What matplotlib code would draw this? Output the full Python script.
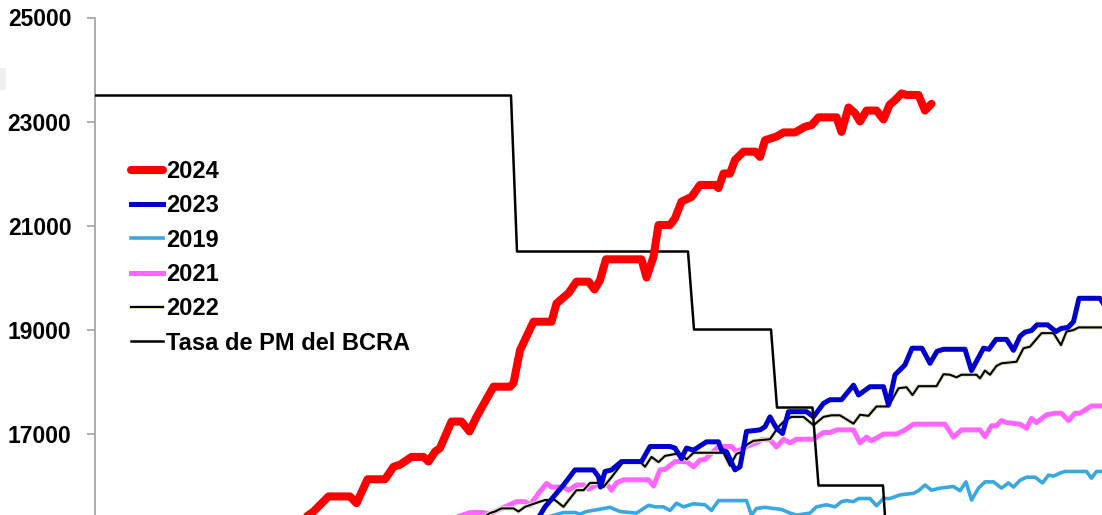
import matplotlib
matplotlib.use('Agg')
import matplotlib.pyplot as plt
import matplotlib.patheffects as pe
from matplotlib.patches import Rectangle

plt.rcParams['font.family'] = ['Liberation Sans', 'DejaVu Sans']
plt.rcParams['font.weight'] = 'bold'

# serie 2024
d2024 = [41.5, 43.7, 46.7, 51, 52.3, 54.5, 58, 59.7, 61, 63.3, 65.7, 66.7, 68, 69,
         71.3, 73.3, 74.9, 76.3, 79.7, 83, 83.7, 85, 87.7, 91.3, 92.3, 94.7, 96.3,
         98.7, 99.9, 101, 102.2, 109.3, 110.3, 111.7, 112.7, 115, 116, 117.3, 119.3,
         121, 124, 124.7, 125.7, 127, 128, 129.7, 132, 133, 134, 136.3, 137.7, 140,
         142, 143.3, 144.7, 148.3, 149.3, 150.7, 152, 153, 154.3, 156.3, 157.7,
         158.9, 160, 161.3, 162.3, 164.7, 166, 167.3]
v2024 = [15350, 15500, 15790, 15790, 15660, 16120, 16120, 16360, 16400, 16550, 16550,
         16460, 16650, 16720, 17230, 17230, 17040, 17320, 17900, 17900, 17970, 18600,
         19150, 19150, 19500, 19700, 19920, 19920, 19770, 19950, 20350, 20350, 20000,
         20400, 21010, 21010, 21140, 21460, 21550, 21780, 21780, 21720, 22000, 22000,
         22260, 22420, 22420, 22320, 22640, 22710, 22790, 22790, 22900, 22930, 23080,
         23080, 22800, 23270, 23160, 23000, 23210, 23210, 23040, 23320, 23410, 23540,
         23510, 23510, 23210, 23340]

# serie 2023
d2023 = [88.5, 90, 93.7, 96, 99.7, 100.7, 101.1, 102, 103.3, 105.3, 109.3, 111, 115,
         116, 117.3, 118.3, 119.7, 122.3, 124.7, 125.3, 126.3, 128, 129, 130.3, 133,
         134, 135, 136.3, 137.5, 138.7, 142.3, 143.7, 145.7, 147, 149.3, 151.7, 152.7,
         155, 157.7, 158.7, 160, 162, 163.4, 165.4, 167, 168.4, 169.7, 174, 175.3,
         177.7, 178.8, 180.2, 182.3, 183.7, 185, 186, 187.3, 188.4, 190.5, 192.2,
         193.2, 194.6, 195.7, 196.8, 201, 201.6]
v2023 = [15350, 15590, 16010, 16300, 16300, 16170, 15970, 16270, 16300, 16460, 16460,
         16750, 16750, 16720, 16520, 16720, 16680, 16840, 16840, 16680, 16650, 16300,
         16360, 17040, 17070, 17130, 17320, 17100, 17000, 17420, 17420, 17320, 17580,
         17650, 17650, 17930, 17740, 17900, 17900, 17550, 18130, 18320, 18640, 18640,
         18350, 18580, 18620, 18620, 18210, 18640, 18620, 18810, 18810, 18600, 18870,
         18950, 18980, 19090, 19090, 18960, 19020, 19040, 19150, 19600, 19600, 19510]

# serie 2019
d2019 = [90, 93.7, 96, 97, 98.3, 100.7, 103, 105, 108.3, 110.7, 112, 113.7, 115, 116.3,
         117.7, 119.7, 122, 123.3, 124.7, 130.3, 131.3, 132.3, 134, 137.3, 139, 140.3,
         143, 144.3, 146.3, 148, 149.3, 150.3, 151.7, 152.7, 155, 156.3, 157.7, 159,
         161, 163.7, 164.7, 166, 167.3, 169, 171.7, 173, 174.2, 175.3, 176.7, 178,
         179.7, 181.3, 182.7, 183.7, 185, 186.3, 188, 189.5, 190.7, 191.7, 193, 194,
         198.3, 199.3, 200.3, 202]
v2019 = [15380, 15480, 15480, 15450, 15500, 15540, 15580, 15500, 15470, 15620, 15590,
         15590, 15520, 15660, 15590, 15650, 15630, 15520, 15710, 15710, 15430, 15560,
         15580, 15540, 15470, 15430, 15470, 15590, 15630, 15590, 15690, 15710, 15690,
         15750, 15750, 15610, 15750, 15750, 15820, 15850, 15900, 16010, 15910, 15950,
         15980, 15900, 16070, 15720, 15950, 16070, 16070, 15950, 16050, 15970, 16100,
         16160, 16160, 16050, 16200, 16180, 16240, 16270, 16270, 16140, 16270, 16270]

# serie 2021
d2021 = [71, 75, 77.7, 79, 80, 82.7, 84.3, 86, 87, 88.7, 90.3, 91.3, 93.7, 94.7, 96.3,
         97.7, 98.7, 99.7, 101, 102.3, 103.3, 104.3, 105.7, 110.7, 111.7, 113, 114,
         116, 118.3, 119.7, 121, 122, 123.3, 124.7, 127.3, 128.3, 129.7, 131, 132.3,
         133.3, 135, 136.3, 137.7, 139, 140.3, 143.7, 145.7, 147, 148.3, 151.7, 153,
         154.3, 155.3, 157.7, 160.3, 161.7, 163.7, 170, 171.7, 173.3, 177, 178, 179.3,
         180.3, 181.3, 182.3, 185, 186.3, 187.3, 188.3, 190.3, 192, 193.3, 194.7, 196,
         197, 199.3, 202]
v2021 = [15350, 15480, 15480, 15450, 15500, 15620, 15690, 15690, 15620, 15850, 16040,
         15970, 15970, 15910, 16010, 16010, 15930, 15980, 16040, 16040, 15910, 16050,
         16110, 16110, 15990, 16300, 16310, 16460, 16460, 16360, 16490, 16500, 16620,
         16750, 16750, 16650, 16720, 16780, 16820, 16880, 16880, 16740, 16890, 16820,
         16890, 16890, 17020, 17020, 17070, 17070, 16820, 16930, 16860, 16990, 16990,
         17050, 17180, 17180, 16930, 17070, 17070, 16940, 17150, 17150, 17250, 17210,
         17180, 17100, 17290, 17210, 17360, 17390, 17390, 17250, 17390, 17390, 17530,
         17530]

# serie 2022
d2022 = [77.5, 79, 80, 81.3, 83.7, 84.7, 86, 89, 90, 92, 93.7, 96.3, 97.7, 99, 101,
         101.7, 103.3, 105.7, 109, 110, 111.3, 112.7, 114, 116.3, 117.2, 118.3, 119.7,
         125.7, 127, 128.3, 129.3, 130.3, 131.7, 135, 136.7, 138, 139.3, 141.7, 143.7,
         145.7, 147.3, 149, 151.7, 153, 154.7, 156.3, 158.7, 160.7, 162.3, 163.5,
         164.7, 168.3, 169.7, 171, 172.3, 173.3, 176.3, 177, 178, 179, 180.3, 181.3,
         184.3, 185.7, 187, 189.3, 191.7, 193.2, 194.3, 195.7, 196.7, 202]
v2022 = [15380, 15470, 15500, 15560, 15560, 15500, 15590, 15690, 15720, 15720, 15590,
         15910, 15910, 16050, 16050, 15970, 16160, 16460, 16460, 16360, 16550, 16450,
         16570, 16610, 16610, 16500, 16630, 16630, 16380, 16610, 16640, 16780, 16860,
         16890, 17130, 17250, 17320, 17320, 17160, 17320, 17350, 17350, 17190, 17360,
         17340, 17520, 17520, 17870, 17890, 17740, 17910, 17910, 18140, 18130, 18080,
         18130, 18130, 18060, 18210, 18130, 18300, 18350, 18380, 18640, 18670, 18930,
         18930, 18700, 18960, 18990, 19040, 19040]

# Tasa de politica monetaria (escalones)
d_tasa = [0, 83.2, 84.4, 118.6, 119.8, 135.2, 136.4, 143.5, 144.7, 157.6, 158.6, 202]
v_tasa = [23500, 23500, 20500, 20500, 19000, 19000, 17500, 17500, 16000, 16000,
          14500, 14500]

y_ticks = [17000, 19000, 21000, 23000, 25000]

fig = plt.figure(figsize=(11.02, 5.15), dpi=100)
ax = fig.add_axes([95 / 1102, 0, 1007 / 1102, 497.5 / 515])

ax.plot(d2019, v2019, color='#3aa8e0', lw=2.6, zorder=2, label='2019')
ax.plot(d2021, v2021, color='#ff66ff', lw=3.6, zorder=3, label='2021')
ax.plot(d2022, v2022, color='black', lw=1.5, zorder=4, label='2022',
        path_effects=[pe.Stroke(linewidth=3.0, foreground='#e2e8c4'), pe.Normal()])
ax.plot(d2023, v2023, color='#0000cc', lw=3.6, zorder=5, label='2023')
ax.plot(d_tasa, v_tasa, color='black', lw=1.8, zorder=6, label='Tasa de PM del BCRA')
ax.plot(d2024, v2024, color='#ff0000', lw=5.8, zorder=7, label='2024',
        solid_capstyle='round', solid_joinstyle='round')

ax.set_xlim(0, 1007 / 5)
ax.set_ylim(15433, 25000)
ax.set_yticks(y_ticks)
ax.set_xticks([])
for side in ['top', 'right', 'bottom']:
    ax.spines[side].set_visible(False)
ax.spines['left'].set_color('#a0a0a0')
ax.spines['left'].set_linewidth(1.2)
ax.tick_params(axis='y', length=6, width=1.2, color='#a0a0a0', pad=11,
               labelsize=16.5)
for t in ax.get_yticklabels():
    t.set_fontweight('bold')

handles, labels = ax.get_legend_handles_labels()
order = ['2024', '2023', '2019', '2021', '2022', 'Tasa de PM del BCRA']
hmap = dict(zip(labels, handles))
ax.legend([hmap[k] for k in order], order, loc='upper left',
          bbox_to_anchor=(131 / 1102, 1 - 160 / 515), bbox_transform=fig.transFigure,
          frameon=False, borderpad=0, borderaxespad=0, handlelength=1.35,
          handletextpad=0.15, labelspacing=0.48,
          prop={'size': 17, 'weight': 'bold'})

# small grey patch at the left border
fig.patches.append(Rectangle((0, 1 - 90 / 515), 6 / 1102, 22 / 515,
                             transform=fig.transFigure, color='#f0f0f0', lw=0))

fig.savefig('out.png', dpi=100)
